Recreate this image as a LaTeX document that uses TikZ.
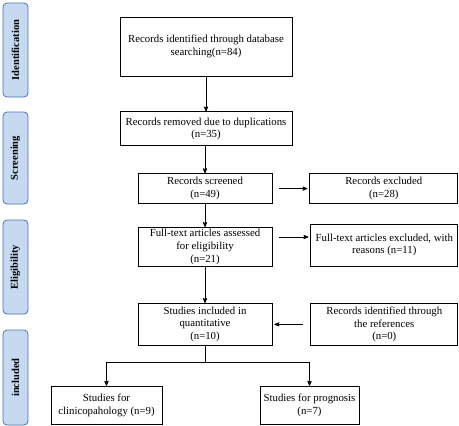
\documentclass[tikz,border=0pt]{standalone}
\usepackage{fontspec}
\setmainfont{Liberation Serif}
\usetikzlibrary{positioning, arrows}
\definecolor{phasefill}{HTML}{C6D9F1}
\definecolor{phaseline}{HTML}{4A74AE}
\tikzset{->,
         >=stealth',
         node distance=30pt,
         every node/.style={font=\fontsize{10.8}{12.7}\selectfont},
         box/.style={draw, thick, align=center, inner sep=2pt, -},
         phase/.style={draw=phaseline, thick, fill=phasefill, rounded corners=4pt,
                       rotate=90, minimum height=25pt, inner sep=0pt,
                       font=\fontsize{10.5}{12}\selectfont\bfseries, -},
         link/.style={thick, ->},
         side/.style={thick, ->, shorten <=7pt, shorten >=2pt},
         }

\begin{document}
\begin{tikzpicture}
    \useasboundingbox (0pt,0pt) rectangle (459pt,-426pt);

    % phases down the left side
    \node[phase, minimum width=94pt] (pid) at (15.5pt,-50pt) {Identification};
    \node[phase, minimum width=92pt] (pscr) at (15.5pt,-158pt) {Screening};
    \node[phase, minimum width=94pt] (pel) at (15.5pt,-267pt) {Eligibility};
    \node[phase, minimum width=95pt] (pin) at (15.5pt,-377.5pt) {included};

    % main column
    \node[box, minimum width=172pt, minimum height=59pt] (found) at (206pt,-46.5pt)
        {Records identified through database\\searching(n=84)};
    \node[box, minimum width=172pt, minimum height=34pt, below=35pt of found] (dup)
        {Records removed due to duplications\\(n=35)};
    \node[box, minimum width=134pt, minimum height=30pt, below=27pt of dup, xshift=-1pt] (scr)
        {Records screened\\(n=49)};
    \node[box, minimum width=134pt, minimum height=38pt, below=23pt of scr] (full)
        {Full-text articles assessed\\for eligibility\\(n=21)};
    \node[box, minimum width=134pt, minimum height=42pt, below=36pt of full] (quant)
        {Studies included in\\quantitative\\(n=10)};

    % right column
    \node[box, minimum width=148pt, minimum height=30pt, right=37pt of scr] (excl)
        {Records excluded\\(n=28)};
    \node[box, minimum width=147pt, minimum height=42pt, right=38pt of full, yshift=2pt] (fexcl)
        {Full-text articles excluded, with\\reasons (n=11)};
    \node[box, minimum width=147pt, minimum height=42pt, right=38pt of quant] (refs)
        {Records identified through\\the references\\(n=0)};

    % bottom row
    \node[box, minimum width=111pt, minimum height=38pt, below=40pt of quant, xshift=-98.5pt] (clin)
        {Studies for\\clinicopahology (n=9)};
    \node[box, minimum width=99pt, minimum height=38pt, below=40pt of quant, xshift=104.5pt] (prog)
        {Studies for prognosis\\(n=7)};

    \coordinate[below=17pt of quant] (split);

    \draw[link] (found) -- (dup);
    \draw[link] (dup.south -| scr) -- (scr);
    \draw[link] (scr) -- (full);
    \draw[link] (full) -- (quant);
    \draw[side] (scr) -- (excl);
    \draw[side] ([yshift=10pt]full.east) -- ([yshift=10pt]full.east -| fexcl.west);
    \draw[side] (refs) -- (quant);
    \draw[thick, -] (quant) -- (split);
    \draw[link] (split) -| (clin);
    \draw[link] (split) -| (prog);
\end{tikzpicture}
\end{document}
